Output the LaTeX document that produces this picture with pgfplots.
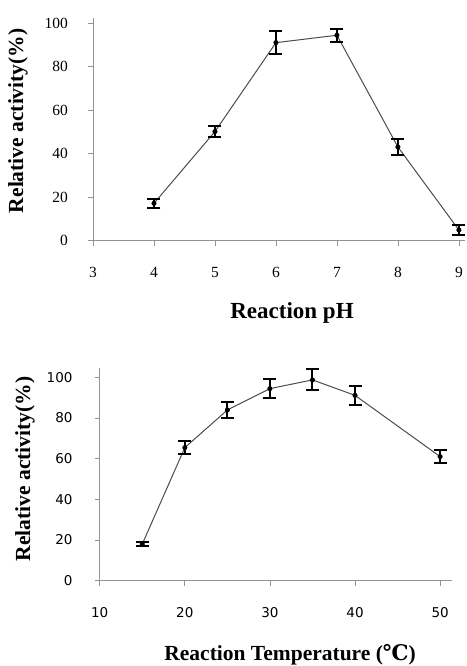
\documentclass[border=0pt]{standalone}
\usepackage{fontspec}
\setmainfont{Liberation Serif}
\newfontfamily\dejasans{DejaVu Sans}
\newfontfamily\dejaserif{DejaVu Serif}
\usepackage{pgfplots}
\pgfplotsset{compat=1.18}
\begin{document}
\begin{tikzpicture}
\pgfplotsset{
  myax/.style={
    scale only axis,
    axis lines=left,
    axis line style={-, draw=gray!85, line width=0.8pt},
    tick style={draw=gray!85, line width=0.8pt},
    tick align=outside,
    major tick length=5pt,
    clip=false,
  },
}
% ---------- top: pH ----------
\begin{axis}[myax,
  at={(93pt,425.3pt)}, anchor=south west,
  width=372pt, height=222.4pt,
  xmin=3, xmax=9.1, ymin=0, ymax=102.3,
  xtick={3,4,5,6,7,8,9},
  ytick={0,20,40,60,80,100},
  /pgf/number format/assume math mode=true,
  ticklabel style={font=\fontsize{15.5}{17}\selectfont},
  xticklabel style={anchor=center, yshift=-27pt},
  yticklabel style={anchor=east, inner sep=0pt, xshift=-20pt},
  every axis y label/.style={at={(axis description cs:-0.2016,0.539)}, rotate=90, anchor=center, font=\fontsize{21.5}{23}\selectfont\bfseries},
  every axis x label/.style={at={(axis description cs:0.535,-0.325)}, anchor=center, font=\fontsize{23}{25}\selectfont\bfseries},
  ylabel={Relative activity(\%)},
  xlabel={Reaction pH},
]
\addplot[draw=black!70, line width=1pt, mark=*, mark size=2pt, mark options={black, fill=black},
  error bars/.cd, y dir=both, y explicit,
  error bar style={line width=2pt, black},
  error mark options={line width=2pt, mark size=6.5pt, rotate=90, black}]
  coordinates {
  (4,17.2) +- (0,2.1)
  (5,50.2) +- (0,2.5)
  (6,91.1) +- (0,5.4)
  (7,94.5) +- (0,3.0)
  (8,43.1) +- (0,3.8)
  (9,4.9) +- (0,2.3)
  };
\end{axis}
% ---------- bottom: temperature ----------
\begin{axis}[myax,
  at={(99.7pt,85.3pt)}, anchor=south west,
  width=352pt, height=212.4pt,
  xmin=10, xmax=51.36, ymin=0, ymax=104.4,
  xtick={10,20,30,40,50},
  ytick={0,20,40,60,80,100},
  /pgf/number format/assume math mode=true,
  ticklabel style={font=\dejasans\fontsize{13.5}{15}\selectfont},
  xticklabel style={anchor=center, yshift=-27pt},
  yticklabel style={anchor=east, inner sep=0pt, xshift=-22pt},
  every axis y label/.style={at={(axis description cs:-0.212,0.526)}, rotate=90, anchor=center, font=\fontsize{21.5}{23}\selectfont\bfseries},
  every axis x label/.style={at={(axis description cs:0.541,-0.35)}, anchor=center, font=\fontsize{21.5}{23}\selectfont\bfseries},
  ylabel={Relative activity(\%)},
  xlabel={Reaction Temperature ({\dejaserif\bfseries ℃})},
]
\addplot[draw=black!70, line width=1pt, mark=*, mark size=2pt, mark options={black, fill=black},
  error bars/.cd, y dir=both, y explicit,
  error bar style={line width=2pt, black},
  error mark options={line width=2pt, mark size=6.5pt, rotate=90, black}]
  coordinates {
  (15,18.0) +- (0,1.1)
  (20,65.4) +- (0,3.3)
  (25,83.9) +- (0,4.1)
  (30,94.4) +- (0,4.8)
  (35,98.7) +- (0,5.2)
  (40,91.1) +- (0,4.8)
  (50,61.0) +- (0,3.0)
  };
\end{axis}
\pgfresetboundingbox
\path[use as bounding box] (0pt,0pt) rectangle (466pt,666pt);
\end{tikzpicture}
\end{document}
